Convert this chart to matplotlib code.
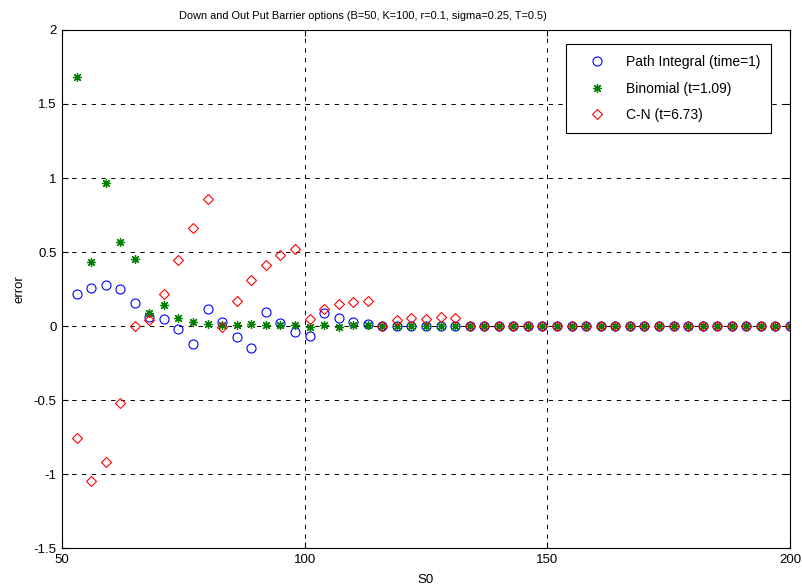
import numpy as np
import matplotlib.pyplot as plt

plt.rcParams['font.family'] = ['Liberation Sans', 'DejaVu Sans']

# spot prices (S0 grid)
s0 = [53, 56, 59, 62, 65, 68, 71, 74, 77, 80,
      83, 86, 89, 92, 95, 98, 101, 104, 107, 110,
      113, 116, 119, 122, 125, 128, 131, 134, 137, 140,
      143, 146, 149, 152, 155, 158, 161, 164, 167, 170,
      173, 176, 179, 182, 185, 188, 191, 194, 197, 200]

# errors
err_path = [0.218, 0.259, 0.279, 0.252, 0.155, 0.063, 0.047, -0.022, -0.124, 0.117,
            0.025, -0.072, -0.147, 0.095, 0.022, -0.038, -0.068, 0.088, 0.052, 0.025,
            0.011, 0.002, 0.0, 0.0, 0.0, 0.0, 0.0, 0.0, 0.0, 0.0,
            0.0, 0.0, 0.0, 0.0, 0.0, 0.0, 0.0, 0.0, 0.0, 0.0,
            0.0, 0.0, 0.0, 0.0, 0.0, 0.0, 0.0, 0.0, 0.0, 0.0]

err_binom = [1.684, 0.43, 0.968, 0.57, 0.45, 0.09, 0.14, 0.054, 0.03, 0.011,
             0.009, 0.007, 0.014, 0.007, 0.009, 0.007, -0.005, 0.007, -0.005, 0.007,
             0.005, 0.0, 0.0, 0.0, 0.0, 0.0, 0.0, 0.0, 0.0, 0.0,
             0.0, 0.0, 0.0, 0.0, 0.0, 0.0, 0.0, 0.0, 0.0, 0.0,
             0.0, 0.0, 0.0, 0.0, 0.0, 0.0, 0.0, 0.0, 0.0, 0.0]

err_cn = [-0.755, -1.047, -0.919, -0.518, 0.002, 0.038, 0.218, 0.444, 0.664, 0.858,
          -0.005, 0.169, 0.309, 0.412, 0.478, 0.518, 0.045, 0.113, 0.149, 0.164,
          0.169, 0.0, 0.04, 0.056, 0.05, 0.063, 0.052, 0.0, 0.0, 0.0,
          0.0, 0.0, 0.0, 0.0, 0.0, 0.0, 0.0, 0.0, 0.0, 0.0,
          0.0, 0.0, 0.0, 0.0, 0.0, 0.0, 0.0, 0.0, 0.0, 0.0]

labels = ["Path Integral (time=1)", "Binomial (t=1.09)", "C-N (t=6.73)"]

fs = 9.5

fig = plt.figure(figsize=(8.03, 5.87), dpi=100)
ax = fig.add_axes([0.0772, 0.0664, 0.9066, 0.8825])

ax.plot(s0, err_path, 'o', mfc='none', mec=(0, 0, 1), ms=6.5, mew=0.8, label=labels[0])
ax.plot(s0, err_binom, marker=(8, 2, 0), ls='none', color=(0, 0.5, 0), ms=6.5, mew=0.9,
        label=labels[1])
ax.plot(s0, err_cn, 'D', mfc='none', mec=(1, 0, 0), ms=5.2, mew=0.8, label=labels[2])

ax.set_xlim(50, 200)
ax.set_ylim(-1.5, 2)
ax.set_xticks([50, 100, 150, 200])
ax.set_yticks(np.arange(-1.5, 2.01, 0.5))
ax.set_yticklabels(['-1.5', '-1', '-0.5', '0', '0.5', '1', '1.5', '2'])

ax.grid(True, color='black', linestyle=(0, (4.5, 5.5)), linewidth=0.7)
ax.tick_params(direction='in', top=True, right=True, labelsize=fs, length=4.3, pad=4)
for sp in ax.spines.values():
    sp.set_linewidth(0.8)

ax.set_xlabel("S0", fontsize=fs, labelpad=6)
ax.set_ylabel("error", fontsize=fs, labelpad=6)
ax.set_title("Down and Out Put Barrier options (B=50, K=100, r=0.1, sigma=0.25, T=0.5)",
             fontsize=7.9, pad=8, x=0.413)

leg = ax.legend(loc='upper right', bbox_to_anchor=(0.974, 0.973), fontsize=10,
                fancybox=False, framealpha=1, edgecolor='black',
                handlelength=2.9, handletextpad=0.6, labelspacing=0.9,
                borderpad=0.8, borderaxespad=0)
leg.get_frame().set_linewidth(0.8)

fig.savefig("out.png", dpi=100)
